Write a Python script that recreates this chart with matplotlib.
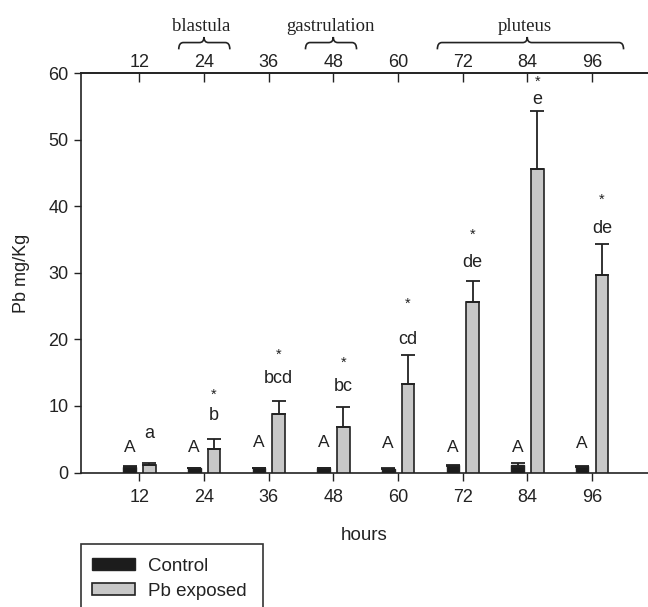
import numpy as np
import matplotlib
matplotlib.use("Agg")
import matplotlib.pyplot as plt
from matplotlib.path import Path
from matplotlib.patches import PathPatch, Rectangle
import matplotlib.transforms as mtransforms

plt.rcParams["font.family"] = ["Liberation Sans", "DejaVu Sans"]

hours = ["12", "24", "36", "48", "60", "72", "84", "96"]

control = [0.9, 0.7, 0.7, 0.7, 0.6, 1.1, 1.1, 0.95]
control_err = [0.1, 0.05, 0.05, 0.05, 0.05, 0.1, 0.3, 0.1]
pb = [1.1, 3.6, 8.8, 6.9, 13.3, 25.7, 45.6, 29.7]
pb_err = [0.35, 1.5, 2.0, 3.0, 4.4, 3.1, 8.7, 4.6]

# significance letters and where they sit (y in mg/Kg)
control_letters = ["A"] * 8
control_letter_y = [3.7, 3.7, 4.5, 4.5, 4.3, 3.7, 3.7, 4.3]
pb_letters = ["a", "b", "bcd", "bc", "cd", "de", "e", "de"]
pb_letter_y = [5.8, 8.5, 14.2, 12.9, 20.0, 31.6, 56.0, 36.7]
star_y = [None, 11.7, 17.7, 16.5, 25.3, 35.8, 58.7, 41.0]

# developmental stages over the top axis (span in category units)
stages = ["blastula", "gastrulation", "pluteus"]
stage_start = [0.61, 2.57, 4.61]
stage_end = [1.40, 3.36, 7.49]
stage_mid = [1.0, 3.0, 6.0]

dark = "#222222"
W, H = 648, 607
fig = plt.figure(figsize=(W / 100, H / 100), dpi=100)
ax = fig.add_axes([81 / W, 1 - 472.5 / H, 1 - 81 / W, (472.5 - 73.3) / H])

x = np.arange(len(hours))
bw = 0.195
ax.bar(x - 0.15, control, bw, yerr=control_err, color="#1c1c1c", edgecolor=dark,
       linewidth=1.0, error_kw=dict(ecolor=dark, elinewidth=1.3, capsize=5, capthick=1.3),
       label="Control", zorder=3)
ax.bar(x + 0.155, pb, bw, yerr=[np.zeros(len(pb)), pb_err], color="#c8c8c8",
       edgecolor=dark, linewidth=1.2,
       error_kw=dict(ecolor=dark, elinewidth=1.3, capsize=5, capthick=1.3),
       label="Pb exposed", zorder=3)

for i in range(len(hours)):
    ax.text(x[i] - 0.15, control_letter_y[i], control_letters[i], ha="center",
            va="center", fontsize=12.5, color=dark)
    ax.text(x[i] + 0.155, pb_letter_y[i], pb_letters[i], ha="center",
            va="center", fontsize=13, color=dark)
    if star_y[i] is not None:
        ax.text(x[i] + 0.155, star_y[i], "*", ha="center", va="center",
                fontsize=10.5, color=dark)

ax.set_xlim(-0.902, 7.868)
ax.set_ylim(0, 60)
ax.set_xticks(x)
ax.set_xticklabels(hours)
ax.set_yticks(range(0, 61, 10))
ax.tick_params(axis="x", direction="out", length=6, width=1, pad=6,
               labelsize=13, colors=dark)
ax.tick_params(axis="y", direction="out", length=5, width=1, pad=4,
               labelsize=13, colors=dark)
for s in ["left", "bottom", "top"]:
    ax.spines[s].set_color(dark)
    ax.spines[s].set_linewidth(1.2)
ax.spines["right"].set_visible(False)

top = ax.secondary_xaxis("top")
top.set_xticks(x)
top.set_xticklabels(hours)
top.tick_params(direction="in", length=6.5, width=1, pad=2, labelsize=13, colors=dark)
top.spines["top"].set_color(dark)
top.spines["top"].set_linewidth(1.2)

ax.set_xlabel("hours", fontsize=13.5, color=dark, labelpad=15)
ax.set_ylabel("Pb mg/Kg", fontsize=13, color=dark, labelpad=13)

# curly braces + stage names above the top labels
trans = mtransforms.blended_transform_factory(ax.transData, ax.transAxes)
yb, yt, ytip = 1.060, 1.077, 1.091
r = 0.07
for name, x0, x1, xm in zip(stages, stage_start, stage_end, stage_mid):
    verts = [(x0, yb), (x0, yt), (x0 + r, yt),
             (xm - r, yt), (xm, yt), (xm, ytip),
             (xm, yt), (xm + r, yt),
             (x1 - r, yt), (x1, yt), (x1, yb)]
    codes = [Path.MOVETO, Path.CURVE3, Path.CURVE3,
             Path.LINETO, Path.CURVE3, Path.CURVE3,
             Path.CURVE3, Path.CURVE3,
             Path.LINETO, Path.CURVE3, Path.CURVE3]
    ax.add_patch(PathPatch(Path(verts, codes), fill=False, edgecolor=dark,
                           linewidth=1.2, transform=trans, clip_on=False))
    ax.text(xm - 0.04, 1.117, name, transform=trans, ha="center", va="center",
            fontsize=13.5, family="Liberation Serif", color=dark)

# legend box hanging off the bottom of the figure
fig.patches.append(Rectangle((81 / W, -0.05), (262.7 - 81) / W, 0.05 + 1 - 544 / H,
                             transform=fig.transFigure, fill=False,
                             edgecolor="#333333", linewidth=1.2))
fig.legend(loc="upper left", bbox_to_anchor=(81 / W, 1 - 547 / H), frameon=False,
           borderaxespad=0, borderpad=0.57, handlelength=2.3, handleheight=0.62,
           handletextpad=0.7, labelspacing=0.42, fontsize=13.5, labelcolor=dark)

fig.savefig("out.png", dpi=100)
